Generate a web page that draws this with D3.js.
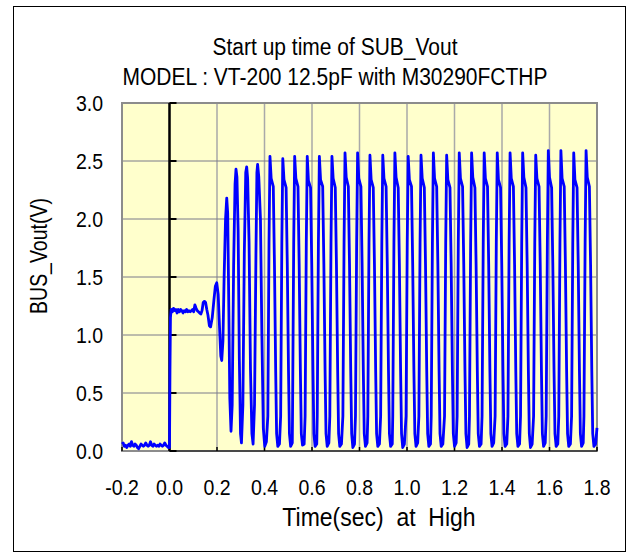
<!DOCTYPE html>
<html>
<head>
  <meta charset="UTF-8">
  <title>Start up time of SUB_Vout</title>
  <style>
    body { margin: 0; background: #fff; }
    svg { display: block; font-family: "Liberation Sans", Arial, sans-serif; }
  </style>
</head>
<body>
<svg></svg>
<script src="https://d3js.org/d3.v7.min.js"></script>
<script>

const titleLines = ["Start up time of SUB_Vout", "MODEL : VT-200 12.5pF with M30290FCTHP"];
const xLabel = "Time(sec)  at  High";
const yLabel = "BUS_Vout(V)";
const xTicks = [-0.2, 0, 0.2, 0.4, 0.6, 0.8, 1.0, 1.2, 1.4, 1.6, 1.8];
const yTicks = [0, 0.5, 1.0, 1.5, 2.0, 2.5, 3.0];

// [time (s), volts]
// before power on
const preStart = [
  [-0.200,0.06],[-0.195,0.07],[-0.190,0.04],[-0.185,0.05],[-0.180,0.03],[-0.175,0.05],[-0.170,0.06],
  [-0.165,0.04],[-0.160,0.08],[-0.155,0.05],[-0.150,0.04],[-0.145,0.06],[-0.140,0.05],[-0.135,0.03],
  [-0.130,0.02],[-0.125,0.04],[-0.120,0.06],[-0.115,0.05],[-0.110,0.04],[-0.105,0.05],[-0.100,0.07],
  [-0.095,0.05],[-0.090,0.04],[-0.085,0.05],[-0.080,0.08],[-0.075,0.05],[-0.070,0.04],[-0.065,0.06],
  [-0.060,0.05],[-0.055,0.04],[-0.050,0.05],[-0.045,0.04],[-0.040,0.06],[-0.035,0.05],[-0.030,0.04],
  [-0.025,0.05],[-0.020,0.07],[-0.015,0.05],[-0.010,0.04],[-0.005,0.03],[0.000,0.03]
];

// plateau and oscillator start
const startUp = [
  [0.002,0.70],[0.004,1.15],[0.007,1.22],[0.012,1.20],[0.017,1.23],[0.022,1.21],[0.027,1.22],
  [0.032,1.19],[0.037,1.22],[0.042,1.20],[0.047,1.22],[0.052,1.21],[0.057,1.19],[0.062,1.21],
  [0.067,1.20],[0.072,1.22],[0.077,1.20],[0.082,1.21],[0.087,1.20],[0.092,1.21],[0.097,1.22],
  [0.102,1.20],[0.107,1.26],[0.112,1.23],[0.117,1.21],[0.122,1.20],[0.127,1.19],[0.132,1.18],
  [0.137,1.21],[0.142,1.28],[0.147,1.29],[0.152,1.28],[0.157,1.22],[0.162,1.17],[0.168,1.08],
  [0.173,1.07],[0.180,1.15],[0.187,1.30],[0.193,1.42],[0.199,1.45],[0.205,1.35],[0.211,1.05],
  [0.216,0.82],[0.220,0.78],[0.225,0.95],[0.230,1.50],[0.236,2.00],[0.241,2.18],[0.245,2.05],
  [0.250,1.20],[0.254,0.45],[0.259,0.17],[0.264,0.40],[0.270,1.60],[0.276,2.30],[0.280,2.43],
  [0.284,2.36],[0.289,1.90],[0.294,0.80],[0.299,0.15],[0.303,0.07],[0.309,0.40],[0.315,1.70],
  [0.321,2.40],[0.325,2.45],[0.329,2.35],[0.335,1.80],[0.341,0.70],[0.347,0.15],[0.352,0.06],
  [0.358,0.40],[0.364,1.70],[0.368,2.40],[0.371,2.47],[0.376,2.36],[0.383,2.00],[0.389,1.00],
  [0.395,0.20],[0.401,0.04],[0.408,0.08]
];

// steady oscillation, one line per cycle
const steady = [
  [0.414,0.30],[0.419,1.80],[0.423,2.54],[0.428,2.35],[0.437,2.28],[0.442,1.60],[0.447,0.70],[0.451,0.15],[0.456,0.04],[0.463,0.06],
  [0.468,0.30],[0.473,1.80],[0.477,2.52],[0.482,2.34],[0.491,2.27],[0.496,1.60],[0.501,0.70],[0.505,0.15],[0.510,0.04],[0.517,0.07],
  [0.518,0.30],[0.523,1.80],[0.527,2.54],[0.532,2.35],[0.541,2.28],[0.546,1.60],[0.551,0.70],[0.555,0.15],[0.560,0.05],[0.567,0.06],
  [0.571,0.30],[0.576,1.80],[0.580,2.54],[0.585,2.33],[0.594,2.27],[0.599,1.60],[0.604,0.70],[0.608,0.15],[0.613,0.04],[0.620,0.06],
  [0.622,0.30],[0.627,1.80],[0.631,2.54],[0.636,2.34],[0.645,2.28],[0.650,1.60],[0.655,0.70],[0.659,0.15],[0.664,0.04],[0.671,0.07],
  [0.675,0.30],[0.680,1.80],[0.684,2.54],[0.689,2.35],[0.698,2.27],[0.703,1.60],[0.708,0.70],[0.712,0.15],[0.717,0.04],[0.724,0.06],
  [0.730,0.30],[0.735,1.80],[0.739,2.57],[0.744,2.36],[0.753,2.28],[0.758,1.60],[0.763,0.70],[0.767,0.15],[0.772,0.03],[0.779,0.06],
  [0.783,0.30],[0.788,1.80],[0.792,2.57],[0.797,2.35],[0.806,2.28],[0.811,1.60],[0.816,0.70],[0.820,0.15],[0.825,0.04],[0.832,0.07],
  [0.835,0.30],[0.840,1.80],[0.844,2.55],[0.849,2.34],[0.858,2.27],[0.863,1.60],[0.868,0.70],[0.872,0.15],[0.877,0.04],[0.884,0.06],
  [0.889,0.30],[0.894,1.80],[0.898,2.55],[0.903,2.35],[0.912,2.28],[0.917,1.60],[0.922,0.70],[0.926,0.15],[0.931,0.04],[0.938,0.06],
  [0.940,0.30],[0.945,1.80],[0.949,2.57],[0.954,2.36],[0.963,2.27],[0.968,1.60],[0.973,0.70],[0.977,0.15],[0.982,0.03],[0.989,0.06],
  [0.996,0.30],[1.001,1.80],[1.005,2.54],[1.010,2.34],[1.019,2.28],[1.024,1.60],[1.029,0.70],[1.033,0.15],[1.038,0.04],[1.045,0.07],
  [1.050,0.30],[1.055,1.80],[1.059,2.55],[1.064,2.35],[1.073,2.27],[1.078,1.60],[1.083,0.70],[1.087,0.15],[1.092,0.04],[1.099,0.06],
  [1.102,0.30],[1.107,1.80],[1.111,2.57],[1.116,2.35],[1.125,2.28],[1.130,1.60],[1.135,0.70],[1.139,0.15],[1.144,0.04],[1.151,0.06],
  [1.158,0.30],[1.163,1.80],[1.167,2.55],[1.172,2.34],[1.181,2.27],[1.186,1.60],[1.191,0.70],[1.195,0.15],[1.200,0.04],[1.207,0.07],
  [1.211,0.30],[1.216,1.80],[1.220,2.57],[1.225,2.35],[1.234,2.28],[1.239,1.60],[1.244,0.70],[1.248,0.15],[1.253,0.03],[1.260,0.06],
  [1.263,0.30],[1.268,1.80],[1.272,2.57],[1.277,2.36],[1.286,2.27],[1.291,1.60],[1.296,0.70],[1.300,0.15],[1.305,0.04],[1.312,0.06],
  [1.316,0.30],[1.321,1.80],[1.325,2.57],[1.330,2.35],[1.339,2.28],[1.344,1.60],[1.349,0.70],[1.353,0.15],[1.358,0.04],[1.365,0.07],
  [1.371,0.30],[1.376,1.80],[1.380,2.57],[1.385,2.34],[1.394,2.27],[1.399,1.60],[1.404,0.70],[1.408,0.15],[1.413,0.04],[1.420,0.06],
  [1.425,0.30],[1.430,1.80],[1.434,2.57],[1.439,2.35],[1.448,2.28],[1.453,1.60],[1.458,0.70],[1.462,0.15],[1.467,0.04],[1.474,0.06],
  [1.478,0.30],[1.483,1.80],[1.487,2.57],[1.492,2.36],[1.501,2.27],[1.506,1.60],[1.511,0.70],[1.515,0.15],[1.520,0.03],[1.527,0.06],
  [1.533,0.30],[1.538,1.80],[1.542,2.55],[1.547,2.35],[1.556,2.28],[1.561,1.60],[1.566,0.70],[1.570,0.15],[1.575,0.04],[1.582,0.07],
  [1.586,0.30],[1.591,1.80],[1.595,2.59],[1.600,2.36],[1.609,2.27],[1.614,1.60],[1.619,0.70],[1.623,0.15],[1.628,0.04],[1.635,0.06],
  [1.639,0.30],[1.644,1.80],[1.648,2.59],[1.653,2.35],[1.662,2.28],[1.667,1.60],[1.672,0.70],[1.676,0.15],[1.681,0.04],[1.688,0.06],
  [1.693,0.30],[1.698,1.80],[1.702,2.57],[1.707,2.34],[1.716,2.27],[1.721,1.60],[1.726,0.70],[1.730,0.15],[1.735,0.04],[1.742,0.07],
  [1.745,0.30],[1.750,1.80],[1.754,2.59],[1.759,2.36],[1.768,2.28],[1.773,1.60],[1.778,0.70],[1.782,0.15],[1.787,0.04],[1.794,0.06],
  [1.800,0.20]
];

const trace = preStart.concat(startUp, steady);

let width = 631, height = 555;
let plot = {left: 122, right: 597, top: 103, bottom: 451};

let svg = d3.select("svg")
    .attr("width", width)
    .attr("height", height);

let x = d3.scaleLinear().domain([-0.2, 1.8]).range([plot.left, plot.right]);
let y = d3.scaleLinear().domain([0, 3]).range([plot.bottom, plot.top]);

// the font in the picture is a bit taller than plain Arial, so stretch vertically
function label(g, px, py, str, size, sy, anchor, rotate) {
  return g.append("text")
    .attr("transform", "translate(" + px + "," + py + ")" + (rotate ? " rotate(-90)" : "") + " scale(1," + sy + ")")
    .attr("text-anchor", anchor)
    .attr("font-size", size)
    .attr("fill", "#000")
    .style("white-space", "pre")
    .text(str);
}

// outer frame
svg.append("rect")
  .attr("x", 13.5).attr("y", 6.5)
  .attr("width", 612).attr("height", 545)
  .attr("fill", "#fff")
  .attr("stroke", "#000")
  .attr("stroke-width", 1);

// plot background
svg.append("rect")
  .attr("x", plot.left).attr("y", plot.top)
  .attr("width", plot.right - plot.left).attr("height", plot.bottom - plot.top)
  .attr("fill", "#ffffcc");

// grid
svg.append("g")
  .selectAll("line")
  .data(xTicks.slice(1, -1))
  .join("line")
    .attr("x1", d => x(d)).attr("x2", d => x(d))
    .attr("y1", plot.top).attr("y2", plot.bottom)
    .attr("stroke", "#a9a9a9")
    .attr("stroke-width", 1.5);

svg.append("g")
  .selectAll("line")
  .data(yTicks.slice(1, -1))
  .join("line")
    .attr("x1", plot.left).attr("x2", plot.right)
    .attr("y1", d => y(d)).attr("y2", d => y(d))
    .attr("stroke", "#7a7a8a")
    .attr("stroke-width", 1);

// plot border
svg.append("rect")
  .attr("x", plot.left).attr("y", plot.top)
  .attr("width", plot.right - plot.left).attr("height", plot.bottom - plot.top)
  .attr("fill", "none")
  .attr("stroke", "#8c8c8c")
  .attr("stroke-width", 2);

// x axis at y = 0
svg.append("line")
  .attr("x1", x(0)).attr("x2", plot.right)
  .attr("y1", y(0)).attr("y2", y(0))
  .attr("stroke", "#333")
  .attr("stroke-width", 1.5);

svg.append("g")
  .selectAll("line")
  .data(xTicks)
  .join("line")
    .attr("x1", d => x(d)).attr("x2", d => x(d))
    .attr("y1", y(0)).attr("y2", y(0) - 4)
    .attr("stroke", "#000")
    .attr("stroke-width", 1.5);

// y axis crossing at t = 0
svg.append("line")
  .attr("x1", x(0)).attr("x2", x(0))
  .attr("y1", plot.top).attr("y2", plot.bottom)
  .attr("stroke", "#000")
  .attr("stroke-width", 2.5);

svg.append("g")
  .selectAll("line")
  .data(yTicks)
  .join("line")
    .attr("x1", x(0)).attr("x2", x(0) + 7)
    .attr("y1", d => y(d)).attr("y2", d => y(d))
    .attr("stroke", "#000")
    .attr("stroke-width", 2);

// trace
let line = d3.line()
  .x(d => x(d[0]))
  .y(d => y(d[1]));

svg.append("path")
  .datum(trace)
  .attr("d", line)
  .attr("fill", "none")
  .attr("stroke", "#0000ff")
  .attr("stroke-width", 2.8)
  .attr("stroke-linejoin", "round");

// tick labels (plain hyphen for the minus sign, like the original)
let fmt = d => d3.format(".1f")(d).replace("\u2212", "-");
let tickG = svg.append("g");
xTicks.forEach(d => label(tickG, x(d), 495, fmt(d), 19.5, 1.12, "middle"));
yTicks.forEach(d => label(tickG, 103, y(d) + 7.5, fmt(d), 19.5, 1.12, "end"));

// titles
label(svg, 335, 55, titleLines[0], 21, 1.1, "middle");
label(svg, 335, 85, titleLines[1], 21, 1.1, "middle");
label(svg, 379, 526, xLabel, 23, 1.12, "middle");
label(svg, 47, 256, yLabel, 19.5, 1.2, "middle", true);

</script>
</body>
</html>
